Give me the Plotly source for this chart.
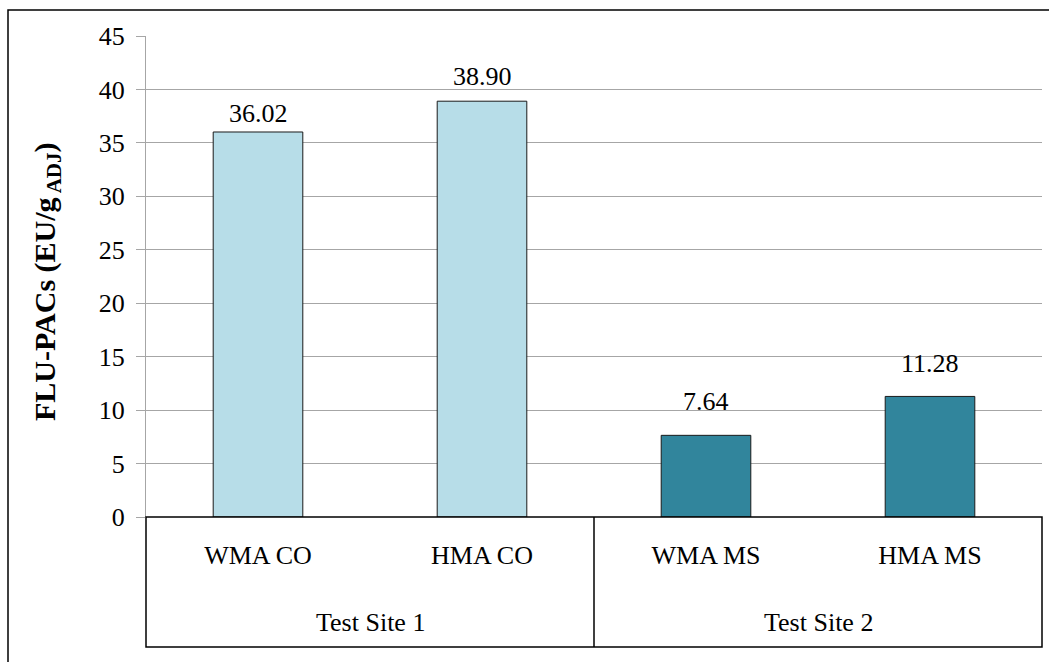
import plotly.graph_objects as go

# Data
categories = ["WMA CO", "HMA CO", "WMA MS", "HMA MS"]
groups = ["Test Site 1", "Test Site 1", "Test Site 2", "Test Site 2"]
values = [36.02, 38.90, 7.64, 11.28]
y_ticks = [0, 5, 10, 15, 20, 25, 30, 35, 40, 45]

group_colors = {"Test Site 1": "#b7dde8", "Test Site 2": "#31859c"}
# vertical nudge (px) of each value label above its bar
label_shift = [2, 8, 17, 16]

W, H = 1049, 662
ML, MR, MT, MB = 146, 7, 36, 145
pw, ph = W - ML - MR, H - MT - MB

FONT = "Liberation Serif"
FS = 26

fig = go.Figure()
fig.add_trace(go.Bar(
    x=categories,
    y=values,
    marker=dict(color=[group_colors[g] for g in groups],
                line=dict(color="#1a1a1a", width=1)),
    showlegend=False,
))


def px_x(p):
    return (p - ML) / pw


def px_y(p):
    return (H - MB - p) / ph


annotations = []
# value labels above each bar
for c, v, s in zip(categories, values, label_shift):
    annotations.append(dict(text=f"{v:.2f}", x=c, y=v, xref="x", yref="y",
                            xanchor="center", yanchor="bottom", yshift=s, showarrow=False,
                            font=dict(family=FONT, size=FS, color="black")))

shapes = []
# category box under the axis
box_bottom = px_y(647)
shapes.append(dict(type="rect", xref="paper", yref="paper", x0=0, x1=1, y0=box_bottom, y1=0,
                   line=dict(color="black", width=1.5), layer="above"))

# group separators and group labels
unique_groups = []
for g in groups:
    if g not in unique_groups:
        unique_groups.append(g)
n = len(categories)
start = 0
for g in unique_groups:
    count = groups.count(g)
    end = start + count
    if end < n:
        shapes.append(dict(type="line", xref="paper", yref="paper", x0=end / n, x1=end / n,
                           y0=box_bottom, y1=0, line=dict(color="black", width=1.5)))
    annotations.append(dict(text=g, xref="paper", yref="paper", x=(start + end) / (2 * n),
                            y=px_y(622), xanchor="center", yanchor="middle", showarrow=False,
                            font=dict(family=FONT, size=FS, color="black")))
    start = end

# outer chart frame (left and top edges)
shapes.append(dict(type="path", xref="paper", yref="paper",
                   path=f"M {px_x(8)},{px_y(700)} L {px_x(8)},{px_y(10)} L {px_x(1100)},{px_y(10)}",
                   line=dict(color="black", width=1.5)))

# y axis title
annotations.append(dict(text="<b>FLU-PACs (EU/g<sub> ADJ</sub>)</b>", xref="paper", yref="paper",
                        x=px_x(47), y=px_y(282), textangle=-90, xanchor="center", yanchor="middle",
                        showarrow=False, font=dict(family=FONT, size=30, color="black")))

fig.update_layout(
    width=W, height=H,
    margin=dict(l=ML, r=MR, t=MT, b=MB),
    paper_bgcolor="white", plot_bgcolor="white",
    bargap=0.6,
    shapes=shapes,
    annotations=annotations,
    font=dict(family=FONT, size=FS, color="black"),
)
fig.update_xaxes(
    type="category",
    showgrid=False, showline=False, zeroline=False,
    ticks="", ticklabelstandoff=20,
    tickfont=dict(family=FONT, size=FS, color="black"),
)
fig.update_yaxes(
    range=[0, 45], tickvals=y_ticks,
    showgrid=True, gridcolor="#a6a6a6", gridwidth=1.3,
    showline=True, linecolor="#a6a6a6", linewidth=1.3,
    ticks="outside", ticklen=9, tickcolor="#a6a6a6", tickwidth=1.3,
    zeroline=False,
    ticklabelstandoff=6,
    tickfont=dict(family=FONT, size=FS, color="black"),
)

fig.write_html("out.html")
